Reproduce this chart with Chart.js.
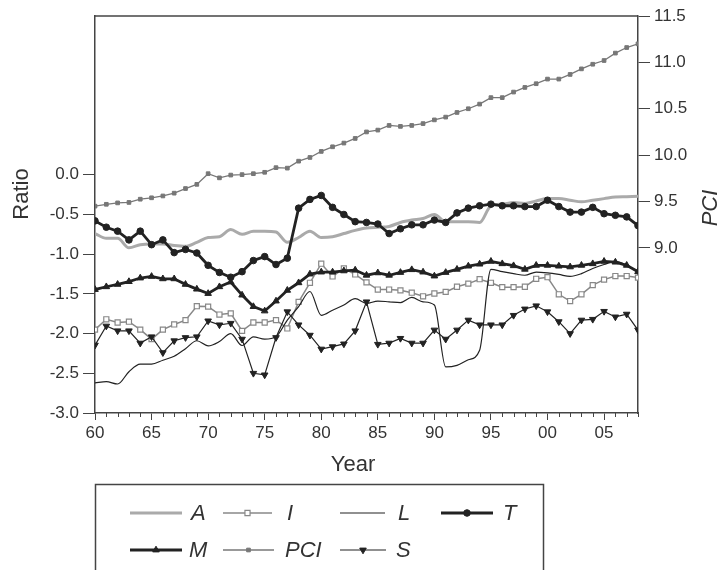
<!DOCTYPE html>
<html>
<head>
<meta charset="utf-8">
<script src="https://cdn.jsdelivr.net/npm/chart.js@4/dist/chart.umd.min.js"></script>
<style>
  body { margin: 0; background: #fff; }
  canvas { display: block; }
</style>
</head>
<body>
<canvas id="chart" width="722" height="570"></canvas>
<script>
// years on the x axis
const years = [1960, 1961, 1962, 1963, 1964, 1965, 1966, 1967, 1968, 1969,
  1970, 1971, 1972, 1973, 1974, 1975, 1976, 1977, 1978, 1979,
  1980, 1981, 1982, 1983, 1984, 1985, 1986, 1987, 1988, 1989,
  1990, 1991, 1992, 1993, 1994, 1995, 1996, 1997, 1998, 1999,
  2000, 2001, 2002, 2003, 2004, 2005, 2006, 2007, 2008];

const xTickValues = [1960, 1965, 1970, 1975, 1980, 1985, 1990, 1995, 2000, 2005];
const xTickLabels = ['60', '65', '70', '75', '80', '85', '90', '95', '00', '05'];
const leftTicks = [-3.0, -2.5, -2.0, -1.5, -1.0, -0.5, 0.0];
const rightTicks = [9.0, 9.5, 10.0, 10.5, 11.0, 11.5];

// series, left axis (Ratio)
const seriesA = [-0.74, -0.80, -0.80, -0.92, -0.88, -0.87, -0.87, -0.89, -0.90, -0.85,
  -0.79, -0.78, -0.69, -0.75, -0.71, -0.71, -0.72, -0.85, -0.79, -0.71,
  -0.79, -0.78, -0.74, -0.70, -0.67, -0.66, -0.65, -0.60, -0.57, -0.55,
  -0.50, -0.59, -0.59, -0.59, -0.60, -0.39, -0.37, -0.35, -0.36, -0.33,
  -0.30, -0.30, -0.32, -0.34, -0.32, -0.30, -0.28, -0.275, -0.27];

const seriesI = [-1.95, -1.82, -1.86, -1.85, -1.95, -2.07, -1.95, -1.885, -1.83, -1.655,
  -1.66, -1.76, -1.745, -1.965, -1.86, -1.86, -1.83, -1.935, -1.60, -1.36,
  -1.12, -1.28, -1.18, -1.255, -1.355, -1.445, -1.445, -1.455, -1.485, -1.53,
  -1.495, -1.475, -1.41, -1.37, -1.315, -1.36, -1.415, -1.415, -1.41, -1.31,
  -1.29, -1.505, -1.59, -1.505, -1.39, -1.32, -1.275, -1.275, -1.295];

const seriesL = [-2.62, -2.605, -2.635, -2.48, -2.385, -2.385, -2.335, -2.285, -2.19, -2.09,
  -2.155, -2.10, -2.0, -2.15, -2.04, -2.07, -2.04, -1.83, -1.66, -1.47,
  -1.77, -1.705, -1.64, -1.56, -1.62, -1.59, -1.60, -1.61, -1.545, -1.60,
  -1.64, -2.42, -2.40, -2.33, -2.21, -1.19, -1.22, -1.245, -1.265, -1.225,
  -1.235, -1.255, -1.28, -1.245, -1.18, -1.13, -1.09, -1.14, -1.225];

const seriesT = [-0.58, -0.66, -0.71, -0.82, -0.71, -0.88, -0.82, -0.98, -0.94, -0.985,
  -1.14, -1.23, -1.29, -1.22, -1.08, -1.03, -1.13, -1.05, -0.42, -0.31,
  -0.26, -0.41, -0.50, -0.59, -0.60, -0.62, -0.74, -0.68, -0.63, -0.63,
  -0.57, -0.60, -0.48, -0.42, -0.39, -0.37, -0.39, -0.39, -0.40, -0.40,
  -0.32, -0.40, -0.47, -0.47, -0.41, -0.49, -0.51, -0.53, -0.64];

const seriesM = [-1.445, -1.41, -1.38, -1.345, -1.30, -1.28, -1.31, -1.31, -1.38, -1.44,
  -1.495, -1.41, -1.35, -1.515, -1.66, -1.715, -1.59, -1.455, -1.36, -1.25,
  -1.225, -1.225, -1.21, -1.20, -1.265, -1.235, -1.265, -1.23, -1.195, -1.225,
  -1.275, -1.23, -1.19, -1.15, -1.125, -1.09, -1.12, -1.145, -1.19, -1.14,
  -1.14, -1.15, -1.16, -1.14, -1.12, -1.09, -1.10, -1.14, -1.22];

const seriesS = [-2.145, -1.905, -1.965, -1.965, -2.12, -2.04, -2.24, -2.09, -2.05, -2.04,
  -1.84, -1.89, -1.87, -2.07, -2.50, -2.52, -2.05, -1.725, -1.89, -2.02,
  -2.195, -2.165, -2.13, -1.965, -1.60, -2.135, -2.12, -2.06, -2.12, -2.12,
  -1.955, -2.07, -1.955, -1.83, -1.89, -1.89, -1.89, -1.77, -1.69, -1.65,
  -1.725, -1.85, -2.0, -1.83, -1.82, -1.72, -1.79, -1.755, -1.955];

// right axis (PCI)
const seriesPCI = [9.45, 9.47, 9.485, 9.49, 9.525, 9.54, 9.56, 9.59, 9.64, 9.685,
  9.80, 9.755, 9.785, 9.79, 9.80, 9.815, 9.865, 9.86, 9.935, 9.975,
  10.04, 10.09, 10.13, 10.18, 10.25, 10.27, 10.32, 10.31, 10.32, 10.34,
  10.38, 10.41, 10.46, 10.50, 10.55, 10.62, 10.62, 10.68, 10.73, 10.77,
  10.82, 10.82, 10.87, 10.93, 10.98, 11.02, 11.10, 11.16, 11.20];

const pts = arr => arr.map((v, i) => ({ x: years[i], y: v }));

const axisColor = '#444';
const textColor = '#333';
const tickFont = { family: 'Liberation Sans, Arial, sans-serif', size: 17 };

const datasets = [
  { label: 'A', data: pts(seriesA), yAxisID: 'y', borderColor: '#aaaaaa', borderWidth: 3,
    pointRadius: 0, cubicInterpolationMode: 'monotone', order: 6 },
  { label: 'I', data: pts(seriesI), yAxisID: 'y', borderColor: '#888888', borderWidth: 1.5,
    pointStyle: 'rect', pointRadius: 3.6, pointBackgroundColor: '#ffffff', pointBorderColor: '#888888',
    pointBorderWidth: 1.2, order: 5 },
  { label: 'L', data: pts(seriesL), yAxisID: 'y', borderColor: '#222222', borderWidth: 1.2,
    pointRadius: 0, cubicInterpolationMode: 'monotone', order: 4 },
  { label: 'T', data: pts(seriesT), yAxisID: 'y', borderColor: '#222222', borderWidth: 2.8,
    pointStyle: 'circle', pointRadius: 3.3, pointBackgroundColor: '#222222', pointBorderColor: '#222222',
    pointBorderWidth: 1, order: 0 },
  { label: 'M', data: pts(seriesM), yAxisID: 'y', borderColor: '#222222', borderWidth: 2.8,
    pointStyle: 'triangle', pointRadius: 3.8, pointBackgroundColor: '#222222', pointBorderColor: '#222222',
    pointBorderWidth: 1, order: 1 },
  { label: 'PCI', data: pts(seriesPCI), yAxisID: 'y1', borderColor: '#777777', borderWidth: 1.3,
    pointStyle: 'rect', pointRadius: 2.6, pointBackgroundColor: '#777777', pointBorderColor: '#777777',
    pointBorderWidth: 1, order: 3 },
  { label: 'S', data: pts(seriesS), yAxisID: 'y', borderColor: '#222222', borderWidth: 1.2,
    pointStyle: 'triangle', pointRotation: 180, pointRadius: 3.8, pointBackgroundColor: '#222222',
    pointBorderColor: '#222222', pointBorderWidth: 1, order: 2 }
];

// legend slots: [dataset index, line start, line end, text x, row y]
const legendSlots = [
  [0, 130, 182, 191, 513], [1, 223, 272, 287, 513], [2, 340, 385, 398, 513], [3, 441, 493, 503, 513],
  [4, 130, 182, 189, 550], [5, 223, 274, 285, 550], [6, 340, 386, 396, 550]
];

const extras = {
  id: 'extras',
  afterDraw(chart) {
    const ctx = chart.ctx;
    const a = chart.chartArea;
    const xs = chart.scales.x;
    ctx.save();
    // top frame line
    ctx.strokeStyle = axisColor;
    ctx.lineWidth = 1.5;
    ctx.beginPath();
    ctx.moveTo(a.left, a.top);
    ctx.lineTo(a.right, a.top);
    ctx.stroke();
    // minor year ticks
    ctx.lineWidth = 1;
    years.forEach(yr => {
      if (xTickValues.includes(yr)) return;
      const px = Math.round(xs.getPixelForValue(yr)) + 0.5;
      ctx.beginPath();
      ctx.moveTo(px, a.bottom);
      ctx.lineTo(px, a.bottom + 4);
      ctx.stroke();
    });
    // axis titles
    ctx.fillStyle = textColor;
    ctx.textAlign = 'center';
    ctx.textBaseline = 'middle';
    ctx.font = '22px "Liberation Sans", Arial, sans-serif';
    ctx.fillText('Year', 353, 465);
    ctx.save();
    ctx.translate(22, 194);
    ctx.rotate(-Math.PI / 2);
    ctx.fillText('Ratio', 0, 0);
    ctx.restore();
    ctx.save();
    ctx.translate(711, 208);
    ctx.rotate(-Math.PI / 2);
    ctx.font = 'italic 22px "Liberation Sans", Arial, sans-serif';
    ctx.fillText('PCI', 0, 0);
    ctx.restore();
    // legend box
    ctx.strokeStyle = axisColor;
    ctx.lineWidth = 1.5;
    ctx.strokeRect(95.5, 484.5, 448, 120);
    ctx.font = 'italic 22px "Liberation Sans", Arial, sans-serif';
    ctx.textAlign = 'left';
    legendSlots.forEach(([di, x0, x1, tx, ry]) => {
      const ds = chart.data.datasets[di];
      ctx.strokeStyle = ds.borderColor;
      ctx.lineWidth = ds.borderWidth;
      ctx.beginPath();
      ctx.moveTo(x0, ry);
      ctx.lineTo(x1, ry);
      ctx.stroke();
      if (ds.pointRadius > 0) {
        ctx.fillStyle = ds.pointBackgroundColor;
        ctx.strokeStyle = ds.pointBorderColor;
        ctx.lineWidth = ds.pointBorderWidth;
        Chart.helpers.drawPoint(ctx, {
          pointStyle: ds.pointStyle, rotation: ds.pointRotation || 0,
          radius: ds.pointRadius, borderWidth: ds.pointBorderWidth
        }, (x0 + x1) / 2, ry);
      }
      ctx.fillStyle = textColor;
      ctx.fillText(ds.label, tx, ry + 1);
    });
    ctx.restore();
  }
};

new Chart(document.getElementById('chart'), {
  type: 'line',
  data: { datasets: datasets },
  options: {
    responsive: false,
    animation: false,
    devicePixelRatio: 1,
    layout: { padding: { top: 16, left: 0, right: 0, bottom: 0 } },
    plugins: { legend: { display: false }, tooltip: { enabled: false } },
    elements: { line: { fill: false } },
    scales: {
      x: {
        type: 'linear', position: 'bottom', min: 1960, max: 2008,
        afterBuildTicks: s => { s.ticks = xTickValues.map(v => ({ value: v })); },
        afterFit: s => { s.height = 157; },
        ticks: {
          autoSkip: false, maxRotation: 0, padding: 3, color: textColor, font: tickFont,
          callback: v => xTickLabels[xTickValues.indexOf(v)]
        },
        grid: { drawOnChartArea: false, tickLength: 7, color: axisColor, tickWidth: 1 },
        border: { color: axisColor, width: 1.5 }
      },
      y: {
        position: 'left', min: -3, max: 2,
        afterBuildTicks: s => { s.ticks = leftTicks.map(v => ({ value: v })); },
        afterFit: s => { s.width = 95; },
        ticks: { padding: 4, color: textColor, font: tickFont, callback: v => v.toFixed(1) },
        grid: { drawOnChartArea: false, tickLength: 12, color: axisColor, tickWidth: 1 },
        border: { color: axisColor, width: 1.5 }
      },
      y1: {
        position: 'right', min: 7.22, max: 11.5,
        afterBuildTicks: s => { s.ticks = rightTicks.map(v => ({ value: v })); },
        afterFit: s => { s.width = 84; },
        ticks: { padding: 4, color: textColor, font: tickFont, callback: v => v.toFixed(1) },
        grid: { drawOnChartArea: false, tickLength: 12, color: axisColor, tickWidth: 1 },
        border: { color: axisColor, width: 1.5 }
      }
    }
  },
  plugins: [extras]
});
</script>
</body>
</html>
